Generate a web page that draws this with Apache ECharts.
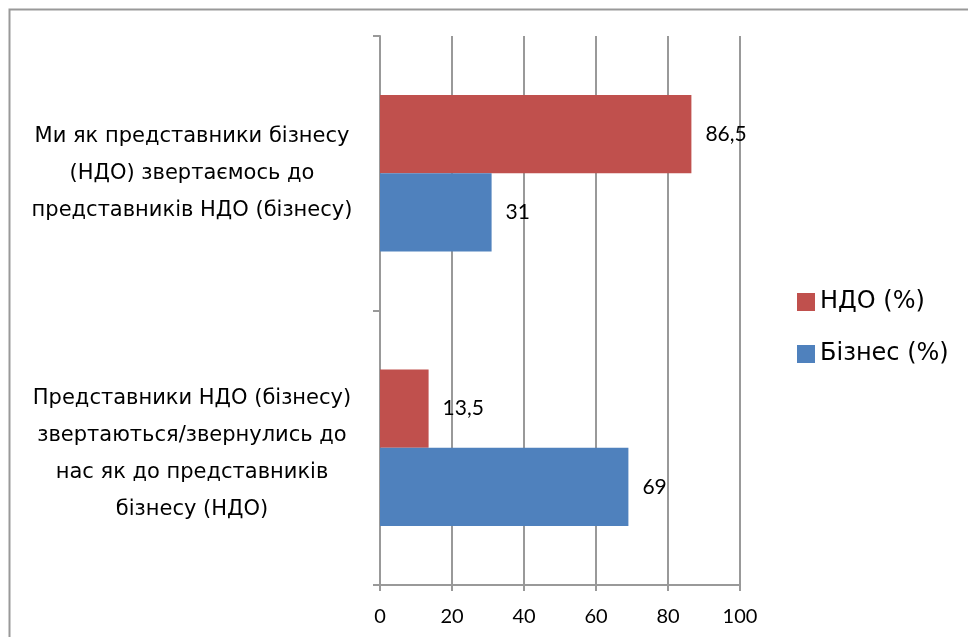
<!DOCTYPE html>
<html><head><meta charset="utf-8">
<script src="https://cdn.jsdelivr.net/npm/echarts@6/dist/echarts.min.js"></script>
<style>html,body{margin:0;padding:0;background:#fff}#c{width:968px;height:637px}</style>
</head><body><div id="c"></div>
<script>
const categories = [
  'Ми як представники бізнесу\n(НДО) звертаємось до\nпредставників НДО (бізнесу)',
  'Представники НДО (бізнесу)\nзвертаються/звернулись до\nнас як до представників\nбізнесу (НДО)'
];
const seriesNames = ['НДО (%)', 'Бізнес (%)'];
const ndoValues = [86.5, 13.5];
const bizValues = [31, 69];
const xTicks = { min: 0, max: 100, interval: 20 };

const NUMFONT = 'Lato';
const TXTFONT = 'DejaVu Sans';
const chart = echarts.init(document.getElementById('c'), null, { renderer: 'canvas' });
const lbl = {
  show: true, position: 'right', distance: 14, color: '#000',
  fontFamily: NUMFONT, fontSize: 21,
  formatter: p => String(p.value).replace('.', ',')
};
const tok = { color: '#000', fontSize: 21, fontFamily: TXTFONT, lineHeight: 37, align: 'center' };
chart.setOption({
  animation: false,
  backgroundColor: '#fff',
  textStyle: { fontFamily: TXTFONT },
  graphic: [{
    type: 'rect', shape: { x: 9.5, y: 9.5, width: 1000, height: 700 },
    style: { fill: 'none', stroke: '#999', lineWidth: 2 }, silent: true
  }],
  legend: {
    orient: 'vertical', left: 792, top: 285, itemWidth: 18, itemHeight: 18, itemGap: 28,
    icon: 'rect', data: seriesNames,
    textStyle: { color: '#000', fontSize: 24, fontFamily: TXTFONT }
  },
  grid: { left: 380, right: 228, top: 36, bottom: 52, containLabel: false, outerBoundsMode: 'none' },
  xAxis: {
    type: 'value', min: xTicks.min, max: xTicks.max, interval: xTicks.interval,
    axisLine: { show: true, lineStyle: { color: '#999', width: 2 } },
    axisTick: { show: true, length: 6, lineStyle: { color: '#999', width: 2 } },
    splitLine: { show: true, lineStyle: { color: '#999', width: 2 } },
    axisLabel: { color: '#000', fontSize: 20, fontFamily: NUMFONT, margin: 22 }
  },
  yAxis: {
    type: 'category', inverse: true, data: categories,
    axisLine: { show: true, lineStyle: { color: '#999', width: 2 } },
    axisTick: { show: true, length: 7, lineStyle: { color: '#999', width: 2 } },
    axisLabel: Object.assign({
      margin: 188,
      formatter: (v, i) => v.split('\n').map(l =>
        '{' + (i === 1 ? 'f' : 'n') + '|' + l + '}').join('\n'),
      rich: { n: Object.assign({}, tok), f: Object.assign({ padding: [13, 0, 0, 0] }, tok) }
    }, tok)
  },
  series: [
    { name: seriesNames[0], type: 'bar', data: ndoValues, itemStyle: { color: '#C0504D' },
      barGap: '0%', barCategoryGap: '43%', label: lbl },
    { name: seriesNames[1], type: 'bar', data: bizValues, itemStyle: { color: '#4F81BD' },
      barGap: '0%', barCategoryGap: '43%', label: lbl }
  ]
});
</script></body></html>
